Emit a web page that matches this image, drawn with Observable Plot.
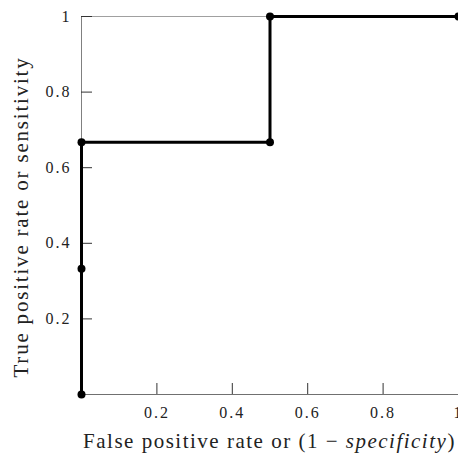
<!DOCTYPE html>
<html>
<head>
<meta charset="utf-8">
<script src="https://cdn.jsdelivr.net/npm/d3@7"></script>
<script src="https://cdn.jsdelivr.net/npm/@observablehq/plot@0.6"></script>
<style>
  html, body { margin: 0; padding: 0; background: white; }
  #chart svg { display: block; }
  #chart svg text { font-family: 'Liberation Serif', 'Times New Roman', serif; }
  #chart g[aria-label="text"] text { font-size: 16px; letter-spacing: 2px; fill: #222; }
</style>
</head>
<body>
<div id="chart"></div>
<script>
// ROC curve points: false positive rate vs. true positive rate
const fpr = [0, 0, 0, 0.5, 0.5, 1];
const tpr = [0, 0.333, 0.667, 0.667, 1, 1];

// Tick values for both axes
const xTicks = [0.2, 0.4, 0.6, 0.8, 1];
const yTicks = [0.2, 0.4, 0.6, 0.8, 1];

const points = fpr.map((x, i) => ({x, y: tpr[i]}));
const fmt = d => String(d);

const W = 458, H = 454;
const M = {left: 81, right: 0, top: 16, bottom: 60};
const SERIF = "'Liberation Serif', 'Times New Roman', serif";

const chart = Plot.plot({
  width: W,
  height: H,
  marginLeft: M.left,
  marginRight: M.right,
  marginTop: M.top,
  marginBottom: M.bottom,
  x: {domain: [0, 1], axis: null},
  y: {domain: [0, 1], axis: null},
  style: {
    fontFamily: SERIF,
    fontSize: "16px",
    color: "#222",
    background: "white",
    overflow: "hidden"
  },
  marks: [
    // frame: light top edge, grey left and bottom axis lines
    Plot.ruleY([1], {stroke: "#a0a0a0", strokeWidth: 1}),
    Plot.ruleX([0], {stroke: "#808080", strokeWidth: 1}),
    Plot.ruleY([0], {stroke: "#707070", strokeWidth: 1}),
    // inward tick marks
    Plot.axisX(xTicks, {tickSize: -11, tickFormat: () => "", stroke: "#333", label: null}),
    Plot.axisY(yTicks, {tickSize: -11, tickFormat: () => "", stroke: "#333", label: null}),
    // tick labels
    Plot.text(xTicks, {
      x: d => d, frameAnchor: "bottom", lineAnchor: "top", dy: 12,
      text: fmt, fontSize: 16
    }),
    Plot.text(yTicks, {
      y: d => d, frameAnchor: "left", textAnchor: "end", dx: -10,
      text: fmt, fontSize: 16
    }),
    // curve
    Plot.line(points, {x: "x", y: "y", stroke: "black", strokeWidth: 3, strokeLinejoin: "miter", strokeLinecap: "butt"}),
    Plot.dot(points, {x: "x", y: "y", r: 4, fill: "black", stroke: "none"})
  ]
});

document.getElementById("chart").appendChild(chart);

// axis titles (with italic "specificity")
const svg = d3.select(chart);
const cx = M.left + (W - M.left - M.right) / 2;

const xt = svg.append("text")
  .attr("x", cx)
  .attr("y", 448)
  .attr("text-anchor", "middle")
  .attr("font-family", SERIF)
  .attr("font-size", 21)
  .attr("letter-spacing", "1.5px")
  .attr("fill", "#222");
xt.append("tspan").text("False positive rate or (1 \u2212 ");
xt.append("tspan").attr("font-style", "italic").text("specificity");
xt.append("tspan").text(")");

svg.append("text")
  .attr("transform", "translate(28,217) rotate(-90)")
  .attr("text-anchor", "middle")
  .attr("font-family", SERIF)
  .attr("font-size", 21)
  .attr("letter-spacing", "1.8px")
  .attr("fill", "#222")
  .text("True positive rate or sensitivity");
</script>
</body>
</html>
